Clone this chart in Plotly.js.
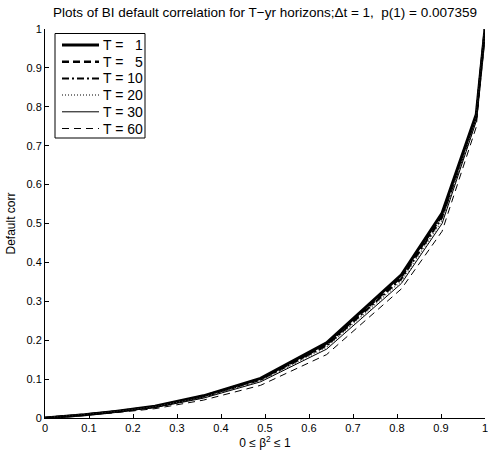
<!DOCTYPE html>
<html>
<head>
<meta charset="utf-8">
<script src="https://cdn.plot.ly/plotly-3.0.1.min.js"></script>
<style>html,body{margin:0;padding:0;background:#fff}#chart{width:488px;height:460px}</style>
</head>
<body>
<div id="chart"></div>
<script>
// x = beta^2
const beta2 = [0, 0.01, 0.04, 0.09, 0.16, 0.25, 0.36, 0.49, 0.64, 0.81, 0.9025, 0.9801, 1];
const horizons = ["T = \u20071", "T = \u20075", "T = 10", "T = 20", "T = 30", "T = 60"];
const corrT1  = [0, 0.0008, 0.0032, 0.0085, 0.017, 0.030, 0.057, 0.102, 0.193, 0.368, 0.527, 0.780, 1];
const corrT5  = [0, 0.0008, 0.0031, 0.0083, 0.0166, 0.029, 0.056, 0.100, 0.189, 0.363, 0.521, 0.776, 1];
const corrT10 = [0, 0.0008, 0.0030, 0.0081, 0.0162, 0.0285, 0.055, 0.098, 0.186, 0.358, 0.515, 0.772, 1];
const corrT20 = [0, 0.0007, 0.0029, 0.0079, 0.0158, 0.028, 0.053, 0.096, 0.182, 0.352, 0.508, 0.768, 1];
const corrT30 = [0, 0.0007, 0.0028, 0.0076, 0.0153, 0.027, 0.051, 0.093, 0.177, 0.346, 0.500, 0.763, 1];
const corrT60 = [0, 0.0006, 0.0024, 0.0066, 0.0135, 0.024, 0.046, 0.084, 0.163, 0.332, 0.480, 0.748, 1];

const series = [corrT1, corrT5, corrT10, corrT20, corrT30, corrT60];
const styles = [
  {width: 3,   dash: 'solid', color: '#000'},
  {width: 2.5, dash: '7px,4px', color: '#000'},
  {width: 2,   dash: '7px,3px,2px,3px', color: '#000'},
  {width: 1.5, dash: '1px,2px', color: '#555'},
  {width: 1,   dash: 'solid', color: '#000'},
  {width: 1,   dash: '7px,5px', color: '#000'}
];

const traces = series.map((y, i) => ({
  x: beta2, y: y, type: 'scatter', mode: 'lines', name: horizons[i],
  line: styles[i], showlegend: false
}));

// plot area in pixels (for placing the hand-made legend)
const L = 45, R = 485, T = 29, B = 418;
const px = v => (v - L) / (R - L);
const py = v => (B - v) / (B - T);

const shapes = [{
  type: 'rect', xref: 'paper', yref: 'paper',
  x0: px(55), x1: px(145), y0: py(138), y1: py(33.5),
  line: {color: '#000', width: 1}, fillcolor: '#fff', layer: 'above'
}];
const annotations = [];
horizons.forEach((name, i) => {
  const yc = 45 + i * 16.7;
  shapes.push({
    type: 'line', xref: 'paper', yref: 'paper',
    x0: px(62), x1: px(99), y0: py(yc), y1: py(yc),
    line: {color: styles[i].color, width: styles[i].width, dash: styles[i].dash},
    layer: 'above'
  });
  annotations.push({
    xref: 'paper', yref: 'paper', x: px(101), y: py(yc),
    xanchor: 'left', yanchor: 'middle', showarrow: false,
    text: name, font: {family: 'Liberation Sans, Arial, sans-serif', size: 14, color: '#000'}
  });
});

const fnt = {family: 'Liberation Sans, Arial, sans-serif', size: 11, color: '#000'};
const tickvals = [0,0.1,0.2,0.3,0.4,0.5,0.6,0.7,0.8,0.9,1];
const ticktext = ["0","0.1","0.2","0.3","0.4","0.5","0.6","0.7","0.8","0.9","1"];

const layout = {
  width: 488, height: 460,
  margin: {l: 45, r: 3, t: 29, b: 42},
  paper_bgcolor: '#fff', plot_bgcolor: '#fff',
  font: fnt,
  showlegend: false,
  shapes: shapes,
  annotations: annotations,
  title: {
    text: "Plots of BI default correlation for T\u2212yr horizons;\u0394t = 1, \u00a0p(1) = 0.007359",
    font: {family: fnt.family, size: 13.5, color: '#000'},
    x: 265/488, xanchor: 'center', xref: 'container',
    y: 1 - 12/460, yanchor: 'middle', yref: 'container'
  },
  xaxis: {
    range: [0, 1], tickvals: tickvals, ticktext: ticktext,
    ticks: 'inside', ticklen: 4, tickcolor: '#000', tickwidth: 1,
    showline: true, linecolor: '#000', linewidth: 1, mirror: false,
    showgrid: false, zeroline: false, ticklabeloverflow: 'allow',
    tickfont: fnt,
    title: {text: "0 \u2264 \u03b2<sup>2</sup> \u2264 1", font: {family: fnt.family, size: 12, color: '#000'}, standoff: 4}
  },
  yaxis: {
    range: [0, 1], tickvals: tickvals, ticktext: ticktext,
    ticks: 'inside', ticklen: 4, tickcolor: '#000', tickwidth: 1,
    showline: true, linecolor: '#000', linewidth: 1, mirror: false,
    showgrid: false, zeroline: false, ticklabeloverflow: 'allow',
    tickfont: fnt,
    title: {text: "Default corr", font: {family: fnt.family, size: 12, color: '#000'}, standoff: 8}
  }
};

Plotly.newPlot('chart', traces, layout, {staticPlot: true, displayModeBar: false});
</script>
</body>
</html>
